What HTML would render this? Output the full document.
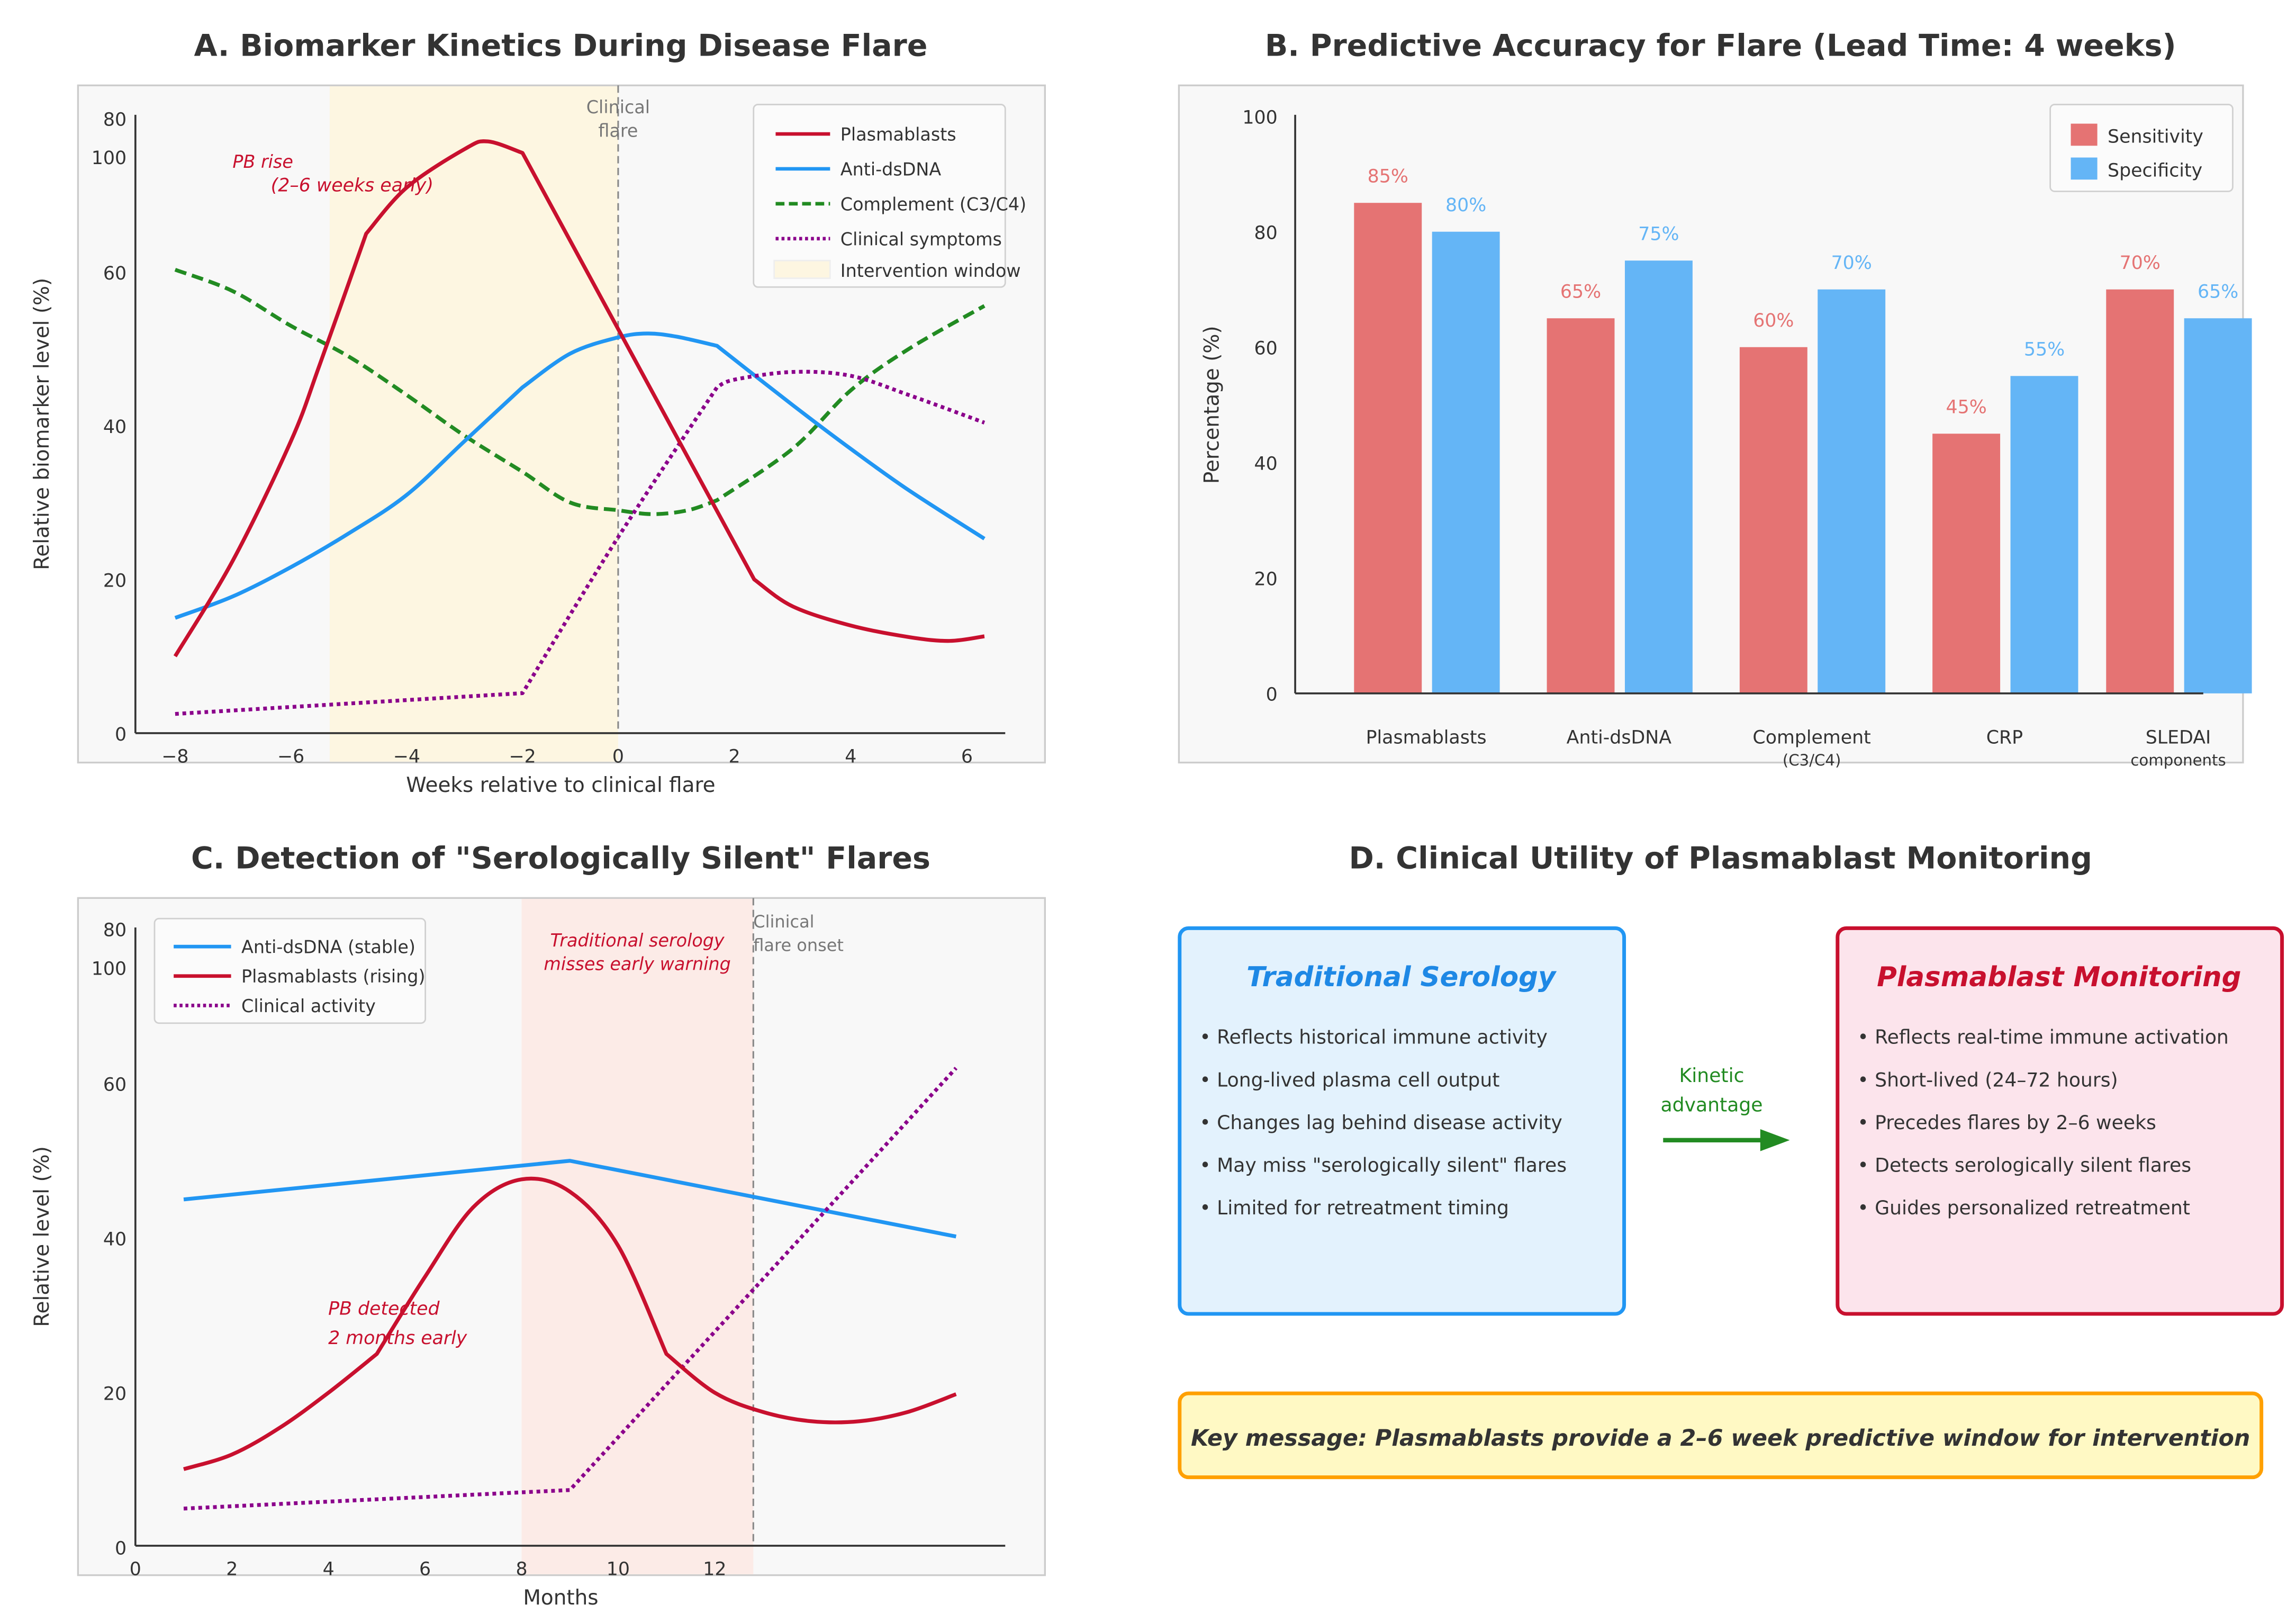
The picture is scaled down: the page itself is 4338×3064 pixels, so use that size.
<!DOCTYPE html>
<html><head><meta charset="utf-8">
<style>
html,body{margin:0;padding:0;background:#fff;}
svg{display:block;font-family:"DejaVu Sans","Liberation Sans",sans-serif;}
</style></head>
<body>
<svg id="fig" xmlns="http://www.w3.org/2000/svg" width="4338" height="3064" viewBox="0 0 1560 1101.8" preserveAspectRatio="none">
  <text x="381" y="38" text-anchor="middle" font-size="20.5" font-weight="bold" fill="#333">A. Biomarker Kinetics During Disease Flare</text>
  <text x="1169" y="38" text-anchor="middle" font-size="20.5" font-weight="bold" fill="#333">B. Predictive Accuracy for Flare (Lead Time: 4 weeks)</text>
  <text x="381" y="590" text-anchor="middle" font-size="20.5" font-weight="bold" fill="#333">C. Detection of "Serologically Silent" Flares</text>
  <text x="1169" y="590" text-anchor="middle" font-size="20.5" font-weight="bold" fill="#333">D. Clinical Utility of Plasmablast Monitoring</text>

  <g id="panelA">
    <rect x="53" y="58" width="657" height="460" fill="#f8f8f8" stroke="#cccccc" stroke-width="1.2"/>
  </g>
  <g id="panelB">
    <rect x="801" y="58" width="723" height="460" fill="#f8f8f8" stroke="#cccccc" stroke-width="1.2"/>
  </g>
  <g id="panelC">
    <rect x="53" y="610" width="657" height="460" fill="#f8f8f8" stroke="#cccccc" stroke-width="1.2"/>
  </g>

  <g>
    <rect x="801.5" y="630.5" width="302" height="262" rx="6" fill="#e3f2fd" stroke="#2196f3" stroke-width="2.5"/>
    <text x="952" y="670" text-anchor="middle" font-size="18.5" font-weight="bold" font-style="italic" fill="#1e88e5">Traditional Serology</text>
    <g font-size="13" fill="#333">
      <text x="815" y="709">• Reflects historical immune activity</text>
      <text x="815" y="738">• Long-lived plasma cell output</text>
      <text x="815" y="767">• Changes lag behind disease activity</text>
      <text x="815" y="796">• May miss "serologically silent" flares</text>
      <text x="815" y="825">• Limited for retreatment timing</text>
    </g>
    <rect x="1248.5" y="630.5" width="302" height="262" rx="6" fill="#fce4ec" stroke="#c8102e" stroke-width="2.5"/>
    <text x="1399" y="670" text-anchor="middle" font-size="18.5" font-weight="bold" font-style="italic" fill="#c8102e">Plasmablast Monitoring</text>
    <g font-size="13" fill="#333">
      <text x="1262" y="709">• Reflects real-time immune activation</text>
      <text x="1262" y="738">• Short-lived (24–72 hours)</text>
      <text x="1262" y="767">• Precedes flares by 2–6 weeks</text>
      <text x="1262" y="796">• Detects serologically silent flares</text>
      <text x="1262" y="825">• Guides personalized retreatment</text>
    </g>
    <text x="1163" y="735" text-anchor="middle" font-size="13" fill="#228b22">Kinetic</text>
    <text x="1163" y="755" text-anchor="middle" font-size="13" fill="#228b22">advantage</text>
    <line x1="1130" y1="774.5" x2="1198" y2="774.5" stroke="#228b22" stroke-width="3"/>
    <polygon points="1196,767 1216,774.5 1196,782" fill="#228b22"/>
    <rect x="801.5" y="946.5" width="735" height="57" rx="6" fill="#fff9c4" stroke="#ffa000" stroke-width="2.5"/>
    <text x="1169" y="982" text-anchor="middle" font-size="15.4" font-weight="bold" font-style="italic" fill="#333">Key message: Plasmablasts provide a 2–6 week predictive window for intervention</text>
  </g>

<script>
// ---------- Panel A data ----------
const aTickWeeks = [-8,-6,-4,-2,0,2,4,6];
const aYTicks = [0,20,40,60,80];
const aPbWeeks = [-8,-7,-6,-5.5,-4.7,-4,-3,-2.6,-2,2.34,3,4,5,5.7,6.3];
const aPbVals  = [10,22.5,38,48,65,71,76,77,75.5,20,16.5,14,12.5,12,12.6];
const aPbKinks = [-4.7,-2,2.34];
const aDnaWeeks = [-8,-7,-6,-5,-4,-3,-2,-1,0,0.5,1,1.7,3,4,5,6.3];
const aDnaVals  = [15,17.8,21.6,26,31,38,45,49.4,51.5,52,51.6,50.4,42.7,37,31.6,25.3];
const aDnaKinks = [-2,1.7];
const aCompWeeks = [-8,-7,-6,-5,-4,-3,-2,-1,0,0.6,1.2,1.7,3,4,5,6.3];
const aCompVals  = [60.3,57.5,53,49,44,38.7,34,30,29,28.5,29,30.3,37,44.6,50,55.6];
const aCompKinks = [1.7];
const aSymWeeks = [-8,-2,0,1.7,2,3,4,5,6.3];
const aSymVals  = [2.5,5.2,25.5,45,46,47,46.5,44,40.4];
const aSymKinks = [-2,1.7];
const aWindow = [-5.33, 0];

// ---------- Panel B data ----------
const bCategories = ["Plasmablasts","Anti-dsDNA","Complement","CRP","SLEDAI"];
const bSubLabels = ["","","(C3/C4)","","components"];
const bSensitivity = [85,65,60,45,70];
const bSpecificity = [80,75,70,55,65];
const bYTicks = [0,20,40,60,80,100];

// ---------- Panel C data ----------
const cXTicks = [0,2,4,6,8,10,12];
const cYTicks = [0,20,40,60,80];
const cDnaMonths = [1,9,17];
const cDnaVals = [45,50,40.2];
const cPbMonths = [1,2,3,4,5,6,7,8,9,10,11,12,13,14,15,16,17];
const cPbVals = [10.1,12,15.5,20,25,35,44,47.6,46,39,25,20,17.5,16.3,16.3,17.5,19.8];
const cPbKinks = [5,11];
const cSymMonths = [1,9,17];
const cSymVals = [5,7.4,62];
const cShade = [8,12.8];
const cFlare = 12.8;

const NS = "http://www.w3.org/2000/svg";
function mk(parent, tag, attrs, text){
  const el = document.createElementNS(NS, tag);
  for (const k in attrs) el.setAttribute(k, attrs[k]);
  if (text !== undefined) el.textContent = text;
  parent.appendChild(el);
  return el;
}
function smoothPath(xs, ys, kinks, fx, fy){
  const P = xs.map((v,i)=>[fx(v), fy(ys[i])]);
  const isK = xs.map(v => kinks.indexOf(v) >= 0);
  let d = "M" + P[0][0].toFixed(2) + "," + P[0][1].toFixed(2);
  for (let i = 0; i < P.length-1; i++){
    const p1 = P[i], p2 = P[i+1];
    const p0 = (i === 0 || isK[i]) ? p1 : P[i-1];
    const p3 = (i+2 >= P.length || isK[i+1]) ? p2 : P[i+2];
    const c1 = [p1[0] + (p2[0]-p0[0])/6, p1[1] + (p2[1]-p0[1])/6];
    const c2 = [p2[0] - (p3[0]-p1[0])/6, p2[1] - (p3[1]-p1[1])/6];
    d += " C" + c1[0].toFixed(2) + "," + c1[1].toFixed(2) + " " + c2[0].toFixed(2) + "," + c2[1].toFixed(2) + " " + p2[0].toFixed(2) + "," + p2[1].toFixed(2);
  }
  return d;
}

// ===== Panel A =====
(function(){
  const g = document.getElementById("panelA");
  const dom = [-8,-2,0,6], rng = [119,355,420,657];
  function ax(w){
    let i = 0;
    if (w > dom[1]) i = 1;
    if (w > dom[2]) i = 2;
    return rng[i] + (w-dom[i])*(rng[i+1]-rng[i])/(dom[i+1]-dom[i]);
  }
  const ay = v => 498 - v*5.22;
  let el = mk(g,"rect",{"x":ax(aWindow[0]),"y":58.6,"width":ax(aWindow[1])-ax(aWindow[0]),"height":458.8,"fill":"#fdf6e1"});
  
  
  el = mk(g,"line",{"x1":92,"y1":78,"x2":92,"y2":498,"stroke":"#333","stroke-width":1.3});
  
  
  el = mk(g,"line",{"x1":92,"y1":498,"x2":683,"y2":498,"stroke":"#333","stroke-width":1.3});
  
  
  aTickWeeks.forEach(w=>{
    const t = mk(g,"text",{"x":ax(w),"y":518,"text-anchor":"middle","font-size":12.5,"fill":"#333"}, w<0?"−"+(-w):String(w));
    
    
  });
  aYTicks.forEach(v=>{
    const t = mk(g,"text",{"x":86,"y":ay(v)+5,"text-anchor":"end","font-size":12.5,"fill":"#333"}, String(v));
    
    
  });
  el = mk(g,"text",{"x":86,"y":ay(75)+5,"text-anchor":"end","font-size":12.5,"fill":"#333"},"100");
  
  
  el = mk(g,"line",{"x1":ax(0),"y1":58,"x2":ax(0),"y2":498,"stroke":"#888","stroke-width":1.1,"stroke-dasharray":"5,3"});
  
  
  el = mk(g,"text",{"x":ax(0),"y":77,"text-anchor":"middle","font-size":12,"fill":"#777"},"Clinical");
  
  
  el = mk(g,"text",{"x":ax(0),"y":93,"text-anchor":"middle","font-size":12,"fill":"#777"},"flare");
  
  
  const series = [
    [aCompWeeks,aCompVals,aCompKinks,"#228b22","8,4","complement-line"],
    [aDnaWeeks,aDnaVals,aDnaKinks,"#2196f3",null,"anti-dsdna-line"],
    [aSymWeeks,aSymVals,aSymKinks,"#8b008b","2.5,2.5","clinical-symptoms-line"],
    [aPbWeeks,aPbVals,aPbKinks,"#c8102e",null,"plasmablasts-line"]
  ];
  series.forEach(s=>{
    const a = {"d":smoothPath(s[0],s[1],s[2],ax,ay),"fill":"none","stroke":s[3],"stroke-width":2.6,"stroke-linejoin":"round"};
    if (s[4]) a["stroke-dasharray"] = s[4];
    const p = mk(g,"path",a);
    
    
  });
  el = mk(g,"text",{"x":158,"y":114,"font-size":12,"font-style":"italic","fill":"#c8102e"},"PB rise");
  
  
  el = mk(g,"text",{"x":184,"y":130,"font-size":12.5,"font-style":"italic","fill":"#c8102e"},"(2–6 weeks early)");
  
  
  el = mk(g,"text",{"x":381,"y":538,"text-anchor":"middle","font-size":14,"fill":"#333"},"Weeks relative to clinical flare");
  
  
  el = mk(g,"text",{"x":0,"y":0,"text-anchor":"middle","font-size":14,"fill":"#333","transform":"translate(33,288) rotate(-90)"},"Relative biomarker level (%)");
  
  
  el = mk(g,"rect",{"x":512,"y":71,"width":171,"height":124,"rx":3,"fill":"#fbfbfb","stroke":"#d0d0d0"});
  
  
  const leg = [["Plasmablasts","#c8102e",null],["Anti-dsDNA","#2196f3",null],["Complement (C3/C4)","#228b22","6,3"],["Clinical symptoms","#8b008b","2,2"]];
  leg.forEach((l,i)=>{
    const y = 91 + i*23.7;
    const a = {"x1":527,"y1":y,"x2":564,"y2":y,"stroke":l[1],"stroke-width":2.4};
    if (l[2]) a["stroke-dasharray"] = l[2];
    const ln = mk(g,"line",a);
    
    
    const t = mk(g,"text",{"x":571,"y":y+4.5,"font-size":12,"fill":"#333"},l[0]);
    
    
  });
  el = mk(g,"rect",{"x":526,"y":177,"width":38,"height":12,"fill":"#fdf6e1","stroke":"#eee"});
  
  
  el = mk(g,"text",{"x":571,"y":188,"font-size":12,"fill":"#333"},"Intervention window");
  
  
})();

// ===== Panel B =====
(function(){
  const g = document.getElementById("panelB");
  const by = v => 471 - v*3.92;
  const cx = i => 969 + i*131 - (i===4 ? 13 : 0);
  const bw = 46;
  let el = mk(g,"line",{"x1":880,"y1":78,"x2":880,"y2":471,"stroke":"#333","stroke-width":1.3});
  
  
  bYTicks.forEach(v=>{
    const t = mk(g,"text",{"x":868,"y":by(v)+5,"text-anchor":"end","font-size":12.5,"fill":"#333"},String(v));
    
    
  });
  bCategories.forEach((c,i)=>{
    const x0 = cx(i);
    const r1 = mk(g,"rect",{"x":x0-49,"y":by(bSensitivity[i]),"width":bw,"height":bSensitivity[i]*3.92,"fill":"#e57373"});
    
    
    const r2 = mk(g,"rect",{"x":x0+4,"y":by(bSpecificity[i]),"width":bw,"height":bSpecificity[i]*3.92,"fill":"#64b5f6"});
    
    
    const t1 = mk(g,"text",{"x":x0-26,"y":by(bSensitivity[i])-14,"text-anchor":"middle","font-size":12.5,"fill":"#e57373"},bSensitivity[i]+"%");
    
    
    const t2 = mk(g,"text",{"x":x0+27,"y":by(bSpecificity[i])-14,"text-anchor":"middle","font-size":12.5,"fill":"#64b5f6"},bSpecificity[i]+"%");
    
    
    const t3 = mk(g,"text",{"x":x0,"y":505,"text-anchor":"middle","font-size":12.5,"fill":"#333"},c);
    
    
    if (bSubLabels[i]) {
      const t4 = mk(g,"text",{"x":x0,"y":520,"text-anchor":"middle","font-size":10.5,"fill":"#333"},bSubLabels[i]);
      
      
    }
  });
  el = mk(g,"line",{"x1":880,"y1":471,"x2":1497,"y2":471,"stroke":"#333","stroke-width":1.3});
  
  
  el = mk(g,"text",{"x":0,"y":0,"text-anchor":"middle","font-size":14,"fill":"#333","transform":"translate(828,275) rotate(-90)"},"Percentage (%)");
  
  
  el = mk(g,"rect",{"x":1393,"y":71,"width":124,"height":59,"rx":3,"fill":"#fbfbfb","stroke":"#d0d0d0"});
  
  
  el = mk(g,"rect",{"x":1407,"y":84,"width":18,"height":15,"fill":"#e57373"});
  
  
  el = mk(g,"rect",{"x":1407,"y":107,"width":18,"height":15,"fill":"#64b5f6"});
  
  
  el = mk(g,"text",{"x":1432,"y":97,"font-size":12.5,"fill":"#333"},"Sensitivity");
  
  
  el = mk(g,"text",{"x":1432,"y":120,"font-size":12.5,"fill":"#333"},"Specificity");
  
  
})();

// ===== Panel C =====
(function(){
  const g = document.getElementById("panelC");
  const cxs = m => 92 + m*32.8;
  const cys = v => 1051 - v*5.25;
  let el = mk(g,"rect",{"x":cxs(cShade[0]),"y":610.6,"width":cxs(cShade[1])-cxs(cShade[0]),"height":458.8,"fill":"#fcebe7"});
  
  
  el = mk(g,"line",{"x1":cxs(cFlare),"y1":610,"x2":cxs(cFlare),"y2":1050,"stroke":"#888","stroke-width":1.1,"stroke-dasharray":"5,3"});
  
  
  el = mk(g,"line",{"x1":92,"y1":630,"x2":92,"y2":1050,"stroke":"#333","stroke-width":1.3});
  
  
  el = mk(g,"line",{"x1":92,"y1":1050,"x2":683,"y2":1050,"stroke":"#333","stroke-width":1.3});
  
  
  cXTicks.forEach(m=>{
    const t = mk(g,"text",{"x":cxs(m),"y":1070,"text-anchor":"middle","font-size":12.5,"fill":"#333"},String(m));
    
    
  });
  cYTicks.forEach(v=>{
    const t = mk(g,"text",{"x":86,"y":cys(v)+5,"text-anchor":"end","font-size":12.5,"fill":"#333"},String(v));
    
    
  });
  el = mk(g,"text",{"x":86,"y":cys(75)+5,"text-anchor":"end","font-size":12.5,"fill":"#333"},"100");
  
  
  const series = [
    [cDnaMonths,cDnaVals,[9],"#2196f3",null,"c-anti-dsdna-line"],
    [cSymMonths,cSymVals,[9],"#8b008b","2.5,2.5","c-clinical-activity-line"],
    [cPbMonths,cPbVals,cPbKinks,"#c8102e",null,"c-plasmablasts-line"]
  ];
  series.forEach(s=>{
    const a = {"d":smoothPath(s[0],s[1],s[2],cxs,cys),"fill":"none","stroke":s[3],"stroke-width":2.6,"stroke-linejoin":"round"};
    if (s[4]) a["stroke-dasharray"] = s[4];
    const p = mk(g,"path",a);
    
    
  });
  el = mk(g,"text",{"x":433,"y":643,"text-anchor":"middle","font-size":12,"font-style":"italic","fill":"#c8102e"},"Traditional serology");
  
  
  el = mk(g,"text",{"x":433,"y":659,"text-anchor":"middle","font-size":12,"font-style":"italic","fill":"#c8102e"},"misses early warning");
  
  
  el = mk(g,"text",{"x":cxs(cFlare),"y":630,"font-size":11.5,"fill":"#777"},"Clinical");
  
  
  el = mk(g,"text",{"x":cxs(cFlare),"y":646,"font-size":11.5,"fill":"#777"},"flare onset");
  
  
  el = mk(g,"text",{"x":223,"y":893,"font-size":12.5,"font-style":"italic","fill":"#c8102e"},"PB detected");
  
  
  el = mk(g,"text",{"x":223,"y":913,"font-size":12.5,"font-style":"italic","fill":"#c8102e"},"2 months early");
  
  
  el = mk(g,"text",{"x":381,"y":1090,"text-anchor":"middle","font-size":14,"fill":"#333"},"Months");
  
  
  el = mk(g,"text",{"x":0,"y":0,"text-anchor":"middle","font-size":14,"fill":"#333","transform":"translate(33,840) rotate(-90)"},"Relative level (%)");
  
  
  el = mk(g,"rect",{"x":105,"y":624,"width":184,"height":71,"rx":3,"fill":"#fbfbfb","stroke":"#d0d0d0"});
  
  
  const leg = [["Anti-dsDNA (stable)","#2196f3",null],["Plasmablasts (rising)","#c8102e",null],["Clinical activity","#8b008b","2,2"]];
  leg.forEach((l,i)=>{
    const y = 643 + i*20;
    const a = {"x1":118,"y1":y,"x2":157,"y2":y,"stroke":l[1],"stroke-width":2.4};
    if (l[2]) a["stroke-dasharray"] = l[2];
    const ln = mk(g,"line",a);
    
    
    const t = mk(g,"text",{"x":164,"y":y+4.5,"font-size":12,"fill":"#333"},l[0]);
    
    
  });
})();
</script>
</svg>
</body></html>
